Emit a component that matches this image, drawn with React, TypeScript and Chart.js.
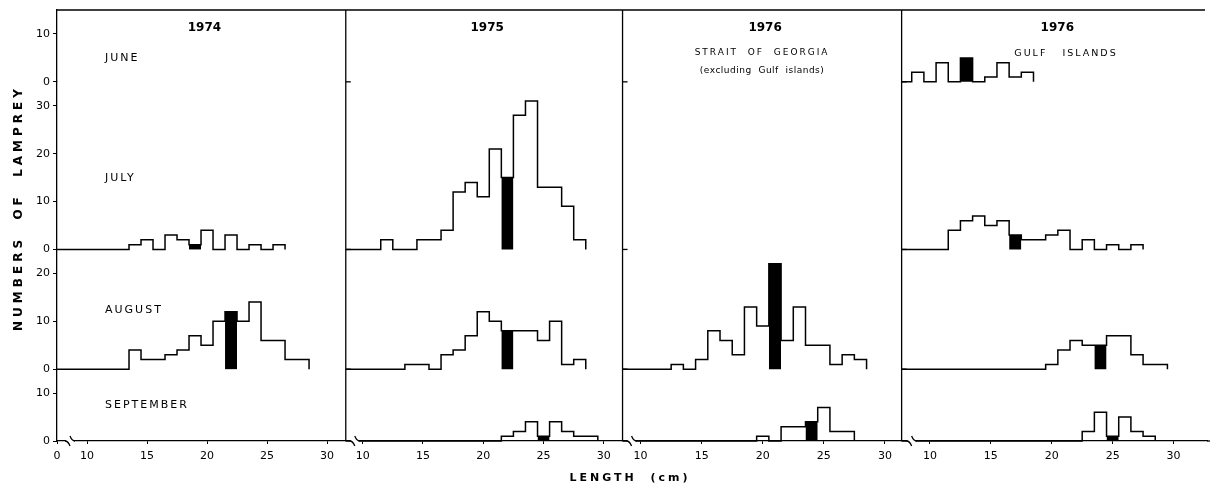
import React, { useEffect, useRef } from 'react';
import { Chart, registerables } from 'chart.js';

Chart.register(...registerables);

// ---------- text ----------
const yearLabels = ['1974', '1975', '1976', '1976'];
const monthLabels = ['JUNE', 'JULY', 'AUGUST', 'SEPTEMBER'];
const strait = ['STRAIT  OF  GEORGIA', '(excluding  Gulf  islands)'];
const gulf = 'GULF   ISLANDS';
const yTitle = 'NUMBERS  OF  LAMPREY';
const xTitle = 'LENGTH  (cm)';

// ---------- axes ----------
const xTickValues = [10, 15, 20, 25, 30];
const rowTickValues = [[0, 10], [0, 10, 20, 30], [0, 10, 20], [0, 10]];
const rowMax = [15, 35, 25, 15];

// ---------- data: counts per 1-cm length class, first class centre given ----------
const jun1976GI = [2, 0, 4, 0, 5, 0, 1, 4, 1, 2]; // 9..18
const jul1974 = [1, 2, 0, 3, 2, 1, 4, 0, 3, 0, 1, 0, 1]; // 14..26
const jul1975 = [2, 0, 0, 2, 2, 4, 12, 14, 11, 21, 15, 28, 31, 13, 13, 9, 2]; // 12..28
const jul1976GI = [4, 6, 7, 5, 6, 3, 2, 2, 3, 4, 0, 2, 0, 1, 0, 1]; // 12..27
const aug1974 = [4, 2, 2, 3, 4, 7, 5, 10, 12, 10, 14, 6, 6, 2, 2]; // 14..28
const aug1975 = [1, 1, 0, 3, 4, 7, 12, 10, 8, 8, 8, 6, 10, 1, 2]; // 14..28
const aug1976SG = [1, 0, 2, 8, 6, 3, 13, 9, 22, 6, 13, 5, 5, 1, 3, 2]; // 13..28
const aug1976GI = [1, 4, 6, 5, 5, 7, 7, 3, 1, 1]; // 20..29
const sep1975 = [1, 2, 4, 1, 4, 2, 1, 1]; // 22..29
const sep1976SG = [1, 0, 3, 3, 4, 7, 2, 2]; // 20..27
const sep1976GI = [2, 6, 1, 5, 2, 1]; // 23..28

type Panel = { col: number; row: number; firstBin: number; counts: number[]; blackBin: number };
const panels: Panel[] = [
  { col: 3, row: 0, firstBin: 9, counts: jun1976GI, blackBin: 13 },
  { col: 0, row: 1, firstBin: 14, counts: jul1974, blackBin: 19 },
  { col: 1, row: 1, firstBin: 12, counts: jul1975, blackBin: 22 },
  { col: 3, row: 1, firstBin: 12, counts: jul1976GI, blackBin: 17 },
  { col: 0, row: 2, firstBin: 14, counts: aug1974, blackBin: 22 },
  { col: 1, row: 2, firstBin: 14, counts: aug1975, blackBin: 22 },
  { col: 2, row: 2, firstBin: 13, counts: aug1976SG, blackBin: 21 },
  { col: 3, row: 2, firstBin: 20, counts: aug1976GI, blackBin: 24 },
  { col: 1, row: 3, firstBin: 22, counts: sep1975, blackBin: 25 },
  { col: 2, row: 3, firstBin: 20, counts: sep1976SG, blackBin: 24 },
  { col: 3, row: 3, firstBin: 23, counts: sep1976GI, blackBin: 25 },
];

// ---------- layout config ----------
const colIds = ['x1', 'x2', 'x3', 'x4'];
const rowIds = ['yJun', 'yJul', 'yAug', 'ySep'];
const colMin = [7.5, 8.6, 8.52, 7.67];
const colMax = [31.56, 31.55, 31.37, 32.75];
const colWeight = [288.7, 276.7, 279, 305.3];
const breakOffset = [9, 5, 5, 6];
const FONT = "'DejaVu Sans', sans-serif";

const decor = {
  id: 'decor',
  afterDraw(chart: any) {
    const ctx = chart.ctx as CanvasRenderingContext2D;
    const ca = chart.chartArea;
    const xs = colIds.map((id) => chart.scales[id]);
    const ys = rowIds.map((id) => chart.scales[id]);
    ctx.save();
    ctx.strokeStyle = '#000';
    ctx.lineWidth = 1.3;
    // top frame
    ctx.beginPath();
    ctx.moveTo(ca.left, ca.top);
    ctx.lineTo(ca.right - 2, ca.top);
    ctx.stroke();
    // x axis runs to the page edge
    ctx.beginPath();
    ctx.moveTo(ca.right, ca.bottom);
    ctx.lineTo(chart.width, ca.bottom);
    ctx.stroke();
    // column separators + inner ticks
    for (let c = 1; c < 4; c++) {
      const x = xs[c].left;
      ctx.beginPath();
      ctx.moveTo(x, ca.top);
      ctx.lineTo(x, ca.bottom);
      ctx.stroke();
      for (let r = 0; r < 3; r++) {
        const y = ys[r].getPixelForValue(0);
        ctx.beginPath();
        ctx.moveTo(x, y);
        ctx.lineTo(x + 5, y);
        ctx.stroke();
      }
    }
    // axis breaks
    const yb = ca.bottom;
    for (let c = 0; c < 4; c++) {
      const x0 = xs[c].left + breakOffset[c];
      ctx.fillStyle = '#fff';
      ctx.fillRect(x0, yb - 2, 8, 4);
      ctx.beginPath();
      ctx.moveTo(x0 - 1, yb);
      ctx.quadraticCurveTo(x0 + 2, yb, x0 + 4, yb + 5);
      ctx.moveTo(x0 + 4, yb - 5);
      ctx.quadraticCurveTo(x0 + 6, yb, x0 + 9, yb);
      ctx.stroke();
    }
    ctx.fillStyle = '#000';
    // year labels
    ctx.textAlign = 'center';
    ctx.textBaseline = 'middle';
    ctx.font = `bold 12px ${FONT}`;
    yearLabels.forEach((t, c) => {
      ctx.fillText(t, (xs[c].left + xs[c].right) / 2 + 3, 28);
    });
    // region labels
    (ctx as any).letterSpacing = '2px';
    ctx.font = `9px ${FONT}`;
    const c3 = (xs[2].left + xs[2].right) / 2;
    ctx.fillText(strait[0], c3, 53);
    (ctx as any).letterSpacing = '0.5px';
    ctx.fillText(strait[1], c3, 71);
    (ctx as any).letterSpacing = '2px';
    ctx.font = `9.5px ${FONT}`;
    ctx.fillText(gulf, 1066, 54);
    // month labels
    ctx.textAlign = 'left';
    ctx.font = `11px ${FONT}`;
    (ctx as any).letterSpacing = '2px';
    const monthY = [58, 178, 310, 405];
    monthLabels.forEach((t, r) => ctx.fillText(t, 105, monthY[r]));
    // axis titles
    ctx.textAlign = 'center';
    ctx.font = `bold 12px ${FONT}`;
    (ctx as any).letterSpacing = '4px';
    ctx.save();
    ctx.translate(19, 208);
    ctx.rotate(-Math.PI / 2);
    ctx.fillText(yTitle, 0, 0);
    ctx.restore();
    ctx.font = `bold 11px ${FONT}`;
    (ctx as any).letterSpacing = '3px';
    ctx.fillText(xTitle, 630, 478);
    (ctx as any).letterSpacing = '0px';
    ctx.restore();
  },
};

function buildDatasets() {
  const ds: any[] = [];
  panels.forEach((p) => {
    const xAxisID = colIds[p.col];
    const yAxisID = rowIds[p.row];
    const bh = p.counts[p.blackBin - p.firstBin];
    ds.push({
      type: 'line',
      data: [
        { x: p.blackBin - 0.5, y: bh },
        { x: p.blackBin + 0.5, y: bh },
      ],
      xAxisID,
      yAxisID,
      borderWidth: 0,
      borderColor: 'rgba(0,0,0,0)',
      backgroundColor: '#000',
      fill: 'origin',
      pointRadius: 0,
      clip: false,
      order: 1,
    });
    const pts: { x: number; y: number }[] = [{ x: colMin[p.col], y: 0 }];
    p.counts.forEach((c, i) => pts.push({ x: p.firstBin + i - 0.5, y: c }));
    pts.push({ x: p.firstBin + p.counts.length - 0.5, y: 0 });
    ds.push({
      type: 'line',
      data: pts,
      xAxisID,
      yAxisID,
      stepped: true,
      borderColor: '#000',
      borderWidth: 1.5,
      pointRadius: 0,
      fill: false,
      clip: false,
      order: 0,
    });
  });
  return ds;
}

function zeroPad(s: any) {
  s.paddingLeft = 0;
  s.paddingRight = 0;
  s.paddingTop = 0;
  s.paddingBottom = 0;
}

function buildScales() {
  const scales: any = {};
  colIds.forEach((id, i) => {
    scales[id] = {
      type: 'linear',
      axis: 'x',
      position: 'bottom',
      stack: 'cols',
      stackWeight: colWeight[i],
      min: colMin[i],
      max: colMax[i],
      afterBuildTicks: (s: any) => {
        const vals = i === 0 ? [colMin[0], ...xTickValues] : xTickValues;
        s.ticks = vals.map((v) => ({ value: v }));
      },
      afterFit: (s: any) => {
        s.height = 48;
        zeroPad(s);
      },
      ticks: {
        autoSkip: false,
        maxRotation: 0,
        padding: 6,
        color: '#000',
        font: { family: FONT, size: 11 },
        callback: (v: number) => (i === 0 && v === colMin[0] ? '0' : String(v)),
      },
      grid: { drawOnChartArea: false, drawTicks: true, tickLength: 3, color: '#000', lineWidth: 1 },
      border: { display: true, color: '#000', width: 1.3 },
    };
  });
  rowIds.forEach((id, r) => {
    scales[id] = {
      type: 'linear',
      axis: 'y',
      position: 'left',
      stack: 'rows',
      stackWeight: rowMax[r],
      weight: 4 - r,
      min: 0,
      max: rowMax[r],
      afterBuildTicks: (s: any) => {
        s.ticks = rowTickValues[r].map((v) => ({ value: v }));
      },
      afterFit: (s: any) => {
        s.width = 57;
        zeroPad(s);
      },
      ticks: { padding: 3, color: '#000', font: { family: FONT, size: 11 } },
      grid: { drawOnChartArea: false, drawTicks: true, tickLength: 4, color: '#000', lineWidth: 1 },
      border: { display: true, color: '#000', width: 1.3 },
    };
  });
  return scales;
}

export default function App() {
  const ref = useRef<HTMLCanvasElement | null>(null);
  useEffect(() => {
    if (!ref.current) return;
    const chart = new Chart(ref.current, {
      type: 'line',
      data: { datasets: buildDatasets() },
      options: {
        responsive: false,
        maintainAspectRatio: false,
        animation: false,
        layout: { padding: { top: 10, right: 3, left: 0, bottom: 0 } },
        plugins: { legend: { display: false }, tooltip: { enabled: false }, title: { display: false } },
        scales: buildScales(),
      },
      plugins: [decor],
    } as any);
    return () => chart.destroy();
  }, []);
  return (
    <div style={{ position: 'absolute', left: 0, top: 0, width: 1210, height: 489, background: '#fff' }}>
      <canvas ref={ref} width={1210} height={489} style={{ display: 'block' }} />
    </div>
  );
}
